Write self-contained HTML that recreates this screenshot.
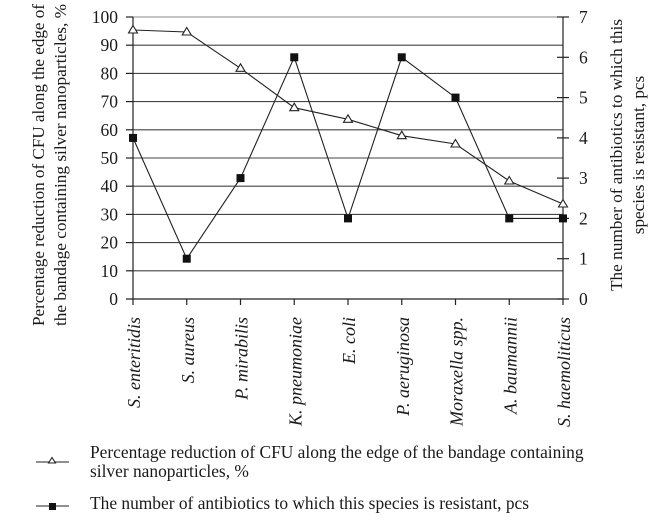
<!DOCTYPE html>
<html><head><meta charset="utf-8"><style>
html,body{margin:0;padding:0;background:#fff;}
svg{display:block;}
text{font-family:"Liberation Serif","Times New Roman",serif;fill:#1a1a1a;}
</style></head><body>
<svg width="666" height="524" viewBox="0 0 666 524" xmlns="http://www.w3.org/2000/svg">
<!-- gridlines -->
<g stroke="#444" stroke-width="1.1">
<line x1="133" y1="17" x2="563" y2="17" stroke="#888"/>
<line x1="133" y1="45.2" x2="563" y2="45.2"/>
<line x1="133" y1="73.4" x2="563" y2="73.4"/>
<line x1="133" y1="101.6" x2="563" y2="101.6"/>
<line x1="133" y1="129.8" x2="563" y2="129.8"/>
<line x1="133" y1="158" x2="563" y2="158"/>
<line x1="133" y1="186.2" x2="563" y2="186.2"/>
<line x1="133" y1="214.4" x2="563" y2="214.4"/>
<line x1="133" y1="242.6" x2="563" y2="242.6"/>
<line x1="133" y1="270.8" x2="563" y2="270.8"/>
</g>
<!-- axes -->
<g stroke="#222" stroke-width="1.2">
<line x1="133" y1="17" x2="133" y2="305"/>
<line x1="563" y1="17" x2="563" y2="305"/>
<line x1="126" y1="299" x2="563" y2="299"/>
<line x1="126" y1="17" x2="133" y2="17"/>
<line x1="126" y1="45.2" x2="133" y2="45.2"/>
<line x1="126" y1="73.4" x2="133" y2="73.4"/>
<line x1="126" y1="101.6" x2="133" y2="101.6"/>
<line x1="126" y1="129.8" x2="133" y2="129.8"/>
<line x1="126" y1="158" x2="133" y2="158"/>
<line x1="126" y1="186.2" x2="133" y2="186.2"/>
<line x1="126" y1="214.4" x2="133" y2="214.4"/>
<line x1="126" y1="242.6" x2="133" y2="242.6"/>
<line x1="126" y1="270.8" x2="133" y2="270.8"/>
<line x1="557" y1="17" x2="569" y2="17"/>
<line x1="557" y1="57.3" x2="569" y2="57.3"/>
<line x1="557" y1="97.6" x2="569" y2="97.6"/>
<line x1="557" y1="137.9" x2="569" y2="137.9"/>
<line x1="557" y1="178.1" x2="569" y2="178.1"/>
<line x1="557" y1="218.4" x2="569" y2="218.4"/>
<line x1="557" y1="258.7" x2="569" y2="258.7"/>
<line x1="557" y1="299" x2="569" y2="299"/>
<line x1="186.75" y1="299" x2="186.75" y2="305"/>
<line x1="240.5" y1="299" x2="240.5" y2="305"/>
<line x1="294.25" y1="299" x2="294.25" y2="305"/>
<line x1="348" y1="299" x2="348" y2="305"/>
<line x1="401.75" y1="299" x2="401.75" y2="305"/>
<line x1="455.5" y1="299" x2="455.5" y2="305"/>
<line x1="509.25" y1="299" x2="509.25" y2="305"/>
</g>
<!-- left tick labels -->
<g font-size="17.5" text-anchor="end">
<text x="118" y="23">100</text>
<text x="118" y="51.2">90</text>
<text x="118" y="79.4">80</text>
<text x="118" y="107.6">70</text>
<text x="118" y="135.8">60</text>
<text x="118" y="164">50</text>
<text x="118" y="192.2">40</text>
<text x="118" y="220.4">30</text>
<text x="118" y="248.6">20</text>
<text x="118" y="276.8">10</text>
<text x="118" y="305">0</text>
</g>
<!-- right tick labels -->
<g font-size="17.5" text-anchor="start">
<text x="579" y="23">7</text>
<text x="579" y="63.3">6</text>
<text x="579" y="103.6">5</text>
<text x="579" y="143.9">4</text>
<text x="579" y="184.1">3</text>
<text x="579" y="224.4">2</text>
<text x="579" y="264.7">1</text>
<text x="579" y="305">0</text>
</g>
<!-- axis titles -->
<g font-size="17.2" text-anchor="middle">
<text transform="translate(44,165) rotate(-90)" textLength="322" lengthAdjust="spacingAndGlyphs">Percentage reduction of CFU along the edge of</text>
<text transform="translate(66,165) rotate(-90)" textLength="322" lengthAdjust="spacingAndGlyphs">the bandage containing silver nanoparticles, %</text>
<text transform="translate(622,155) rotate(-90)" textLength="272" lengthAdjust="spacingAndGlyphs">The number of antibiotics to which this</text>
<text transform="translate(644,155) rotate(-90)">species is resistant, pcs</text>
</g>
<!-- category labels -->
<g font-size="18" font-style="italic" text-anchor="end">
<text transform="translate(140,317) rotate(-90)">S. enteritidis</text>
<text transform="translate(193.75,317) rotate(-90)">S. aureus</text>
<text transform="translate(247.5,317) rotate(-90)">P. mirabilis</text>
<text transform="translate(301.25,317) rotate(-90)">K. pneumoniae</text>
<text transform="translate(355,317) rotate(-90)">E. coli</text>
<text transform="translate(408.75,317) rotate(-90)">P. aeruginosa</text>
<text transform="translate(462.5,317) rotate(-90)">Moraxella spp.</text>
<text transform="translate(516.25,317) rotate(-90)">A. baumannii</text>
<text transform="translate(570,317) rotate(-90)">S. haemoliticus</text>
</g>
<!-- series: squares -->
<polyline fill="none" stroke="#222" stroke-width="1.1" points="133,137.9 186.75,258.7 240.5,178.1 294.25,57.3 348,218.4 401.75,57.3 455.5,97.6 509.25,218.4 563,218.4"/>
<g fill="#111">
<rect x="129" y="133.9" width="8" height="8"/>
<rect x="182.75" y="254.7" width="8" height="8"/>
<rect x="236.5" y="174.1" width="8" height="8"/>
<rect x="290.25" y="53.3" width="8" height="8"/>
<rect x="344" y="214.4" width="8" height="8"/>
<rect x="397.75" y="53.3" width="8" height="8"/>
<rect x="451.5" y="93.6" width="8" height="8"/>
<rect x="505.25" y="214.4" width="8" height="8"/>
<rect x="559" y="214.4" width="8" height="8"/>
</g>
<!-- series: triangles -->
<polyline fill="none" stroke="#222" stroke-width="1.1" points="133,30 186.75,32 240.5,68.3 294.25,107.7 348,119.3 401.75,135.7 455.5,144 509.25,181 563,204"/>
<g fill="#fff" stroke="#222" stroke-width="1.1">
<polygon points="133,25.5 137.5,33 128.5,33"/>
<polygon points="186.75,27.5 191.25,35 182.25,35"/>
<polygon points="240.5,63.8 245,71.3 236,71.3"/>
<polygon points="294.25,103.2 298.75,110.7 289.75,110.7"/>
<polygon points="348,114.8 352.5,122.3 343.5,122.3"/>
<polygon points="401.75,131.2 406.25,138.7 397.25,138.7"/>
<polygon points="455.5,139.5 460,147 451,147"/>
<polygon points="509.25,176.5 513.75,184 504.75,184"/>
<polygon points="563,199.5 567.5,207 558.5,207"/>
</g>
<!-- legend -->
<line x1="36" y1="462" x2="69" y2="462" stroke="#222" stroke-width="1.1"/>
<polygon points="52,457.5 55.5,463 48.5,463" fill="#fff" stroke="#222" stroke-width="1.1"/>
<line x1="36" y1="506" x2="69" y2="506" stroke="#222" stroke-width="1.1"/>
<rect x="49" y="503" width="7" height="7" fill="#111"/>
<g font-size="17.4">
<text x="90" y="458">Percentage reduction of CFU along the edge of the bandage containing</text>
<text x="90" y="477">silver nanoparticles, %</text>
<text x="90" y="509">The number of antibiotics to which this species is resistant, pcs</text>
</g>
</svg>
</body></html>
